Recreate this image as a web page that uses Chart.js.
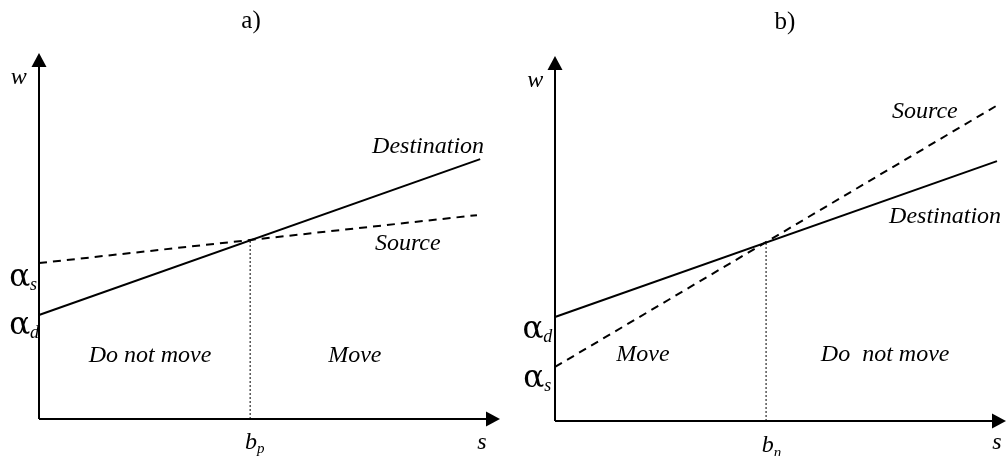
<!DOCTYPE html>
<html>
<head>
<meta charset="utf-8">
<script src="https://cdn.jsdelivr.net/npm/chart.js@4"></script>
<style>
  html,body{margin:0;padding:0;background:#fff;}
  #wrap{position:relative;width:1008px;height:456px;overflow:hidden;}
  canvas{position:absolute;top:0;}
</style>
</head>
<body>
<div id="wrap">
  <canvas id="ca" width="510" height="456" style="left:0px"></canvas>
  <canvas id="cb" width="498" height="456" style="left:510px"></canvas>
</div>
<script>
// ---- Panel a data ----
const aDestS = [0, 9.57];
const aDestW = [2.84, 7.10];
const aSrcS = [0, 9.50];
const aSrcW = [4.26, 5.57];
const aCutS = [4.58, 4.58];
const aCutW = [0, 4.88];
// ---- Panel b data ----
const bDestS = [0, 9.80];
const bDestW = [2.85, 7.12];
const bSrcS = [0, 9.82];
const bSrcW = [1.48, 8.66];
const bCutS = [4.68, 4.68];
const bCutW = [0, 4.90];
// ---- text labels ----
const F = '"Liberation Serif", "Times New Roman", serif';
const AF = '"DejaVu Serif", serif';
const aLabels = [
  {t:'a)', x:4.6, y:10.85, font:'25px ' + F},
  {t:'w', x:-0.44, y:9.32, font:'italic 24px ' + F},
  {t:'Do not move', x:2.41, y:1.73, font:'italic 24px ' + F},
  {t:'Move', x:6.85, y:1.73, font:'italic 24px ' + F},
  {t:'Destination', x:8.44, y:7.43, font:'italic 24px ' + F},
  {t:'Source', x:8.0, y:4.78, font:'italic 24px ' + F},
  {t:'b', sub:'p', x:4.6, y:-0.64, font:'italic 24px ' + F, subFont:'italic 15px ' + F},
  {t:'s', x:9.61, y:-0.64, font:'italic 24px ' + F},
  {t:'\u03B1', sub:'s', x:-0.42, y:3.85, font:'31px ' + AF, subFont:'italic 18px ' + F},
  {t:'\u03B1', sub:'d', x:-0.42, y:2.54, font:'31px ' + AF, subFont:'italic 18px ' + F}
];
const bLabels = [
  {t:'b)', x:5.1, y:10.93, font:'25px ' + F},
  {t:'w', x:-0.44, y:9.32, font:'italic 24px ' + F},
  {t:'Move', x:1.95, y:1.81, font:'italic 24px ' + F},
  {t:'Do  not move', x:7.32, y:1.81, font:'italic 24px ' + F},
  {t:'Source', x:8.2, y:8.47, font:'italic 24px ' + F},
  {t:'Destination', x:8.65, y:5.59, font:'italic 24px ' + F},
  {t:'b', sub:'n', x:4.72, y:-0.68, font:'italic 24px ' + F, subFont:'italic 15px ' + F},
  {t:'s', x:9.8, y:-0.60, font:'italic 24px ' + F},
  {t:'\u03B1', sub:'d', x:-0.49, y:2.49, font:'31px ' + AF, subFont:'italic 18px ' + F},
  {t:'\u03B1', sub:'s', x:-0.47, y:1.15, font:'31px ' + AF, subFont:'italic 18px ' + F}
];

function pts(xs, ys){ return xs.map((x,i)=>({x:x, y:ys[i]})); }

const axesPlugin = {
  id:'axesArrows',
  afterDatasetsDraw(chart, args, opts){
    const ctx = chart.ctx, xs = chart.scales.x, ys = chart.scales.y;
    const x0 = xs.getPixelForValue(0), y0 = ys.getPixelForValue(0);
    const xt = xs.getPixelForValue(10), yt = ys.getPixelForValue(10);
    ctx.save();
    ctx.strokeStyle = '#000'; ctx.fillStyle = '#000'; ctx.lineWidth = 2;
    ctx.beginPath();
    ctx.moveTo(x0, y0); ctx.lineTo(x0, yt + 12);
    ctx.moveTo(x0, y0); ctx.lineTo(xt - 12, y0);
    ctx.stroke();
    ctx.beginPath();
    ctx.moveTo(x0, yt); ctx.lineTo(x0 - 7.5, yt + 14); ctx.lineTo(x0 + 7.5, yt + 14); ctx.closePath();
    ctx.fill();
    ctx.beginPath();
    ctx.moveTo(xt, y0); ctx.lineTo(xt - 14, y0 - 7.5); ctx.lineTo(xt - 14, y0 + 7.5); ctx.closePath();
    ctx.fill();
    ctx.textBaseline = 'middle';
    ctx.textAlign = 'left';
    (opts.labels || []).forEach(l => {
      const px = xs.getPixelForValue(l.x), py = ys.getPixelForValue(l.y);
      ctx.font = l.font;
      const w1 = ctx.measureText(l.t).width;
      const start = px - w1/2;
      ctx.fillText(l.t, start, py);
      if (l.sub) {
        ctx.font = l.subFont;
        ctx.fillText(l.sub, start + w1, py + 7);
      }
    });
    ctx.restore();
  }
};

function makeChart(id, destS, destW, srcS, srcW, cutS, cutW, pad, labels){
  return new Chart(document.getElementById(id), {
    type:'scatter',
    data:{ datasets:[
      {label:'Destination', data:pts(destS, destW), showLine:true, borderColor:'#000', borderWidth:2, pointRadius:0, clip:false},
      {label:'Source', data:pts(srcS, srcW), showLine:true, borderColor:'#000', borderWidth:2, borderDash:[8,6], pointRadius:0, clip:false},
      {label:'cut', data:pts(cutS, cutW), showLine:true, borderColor:'#000', borderWidth:1, borderDash:[2,2], pointRadius:0, clip:false}
    ]},
    options:{
      responsive:false, animation:false, devicePixelRatio:1,
      layout:{padding:pad},
      plugins:{legend:{display:false}, tooltip:{enabled:false}, axesArrows:{labels:labels}},
      scales:{
        x:{type:'linear', min:0, max:10, display:false},
        y:{type:'linear', min:0, max:10, display:false}
      }
    },
    plugins:[axesPlugin]
  });
}

makeChart('ca', aDestS, aDestW, aSrcS, aSrcW, aCutS, aCutW, {left:39, top:53, right:10, bottom:37}, aLabels);
makeChart('cb', bDestS, bDestW, bSrcS, bSrcW, bCutS, bCutW, {left:45, top:56, right:2, bottom:35}, bLabels);
</script>
</body>
</html>
